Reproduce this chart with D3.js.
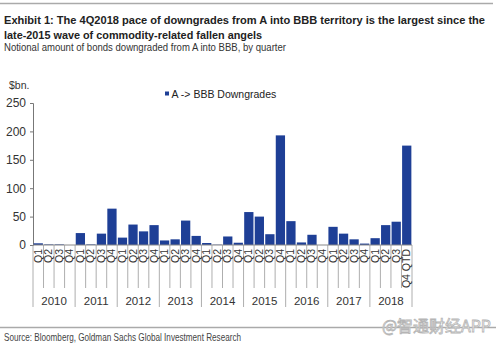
<!DOCTYPE html>
<html>
<head>
<meta charset="utf-8">
<script src="https://cdn.jsdelivr.net/npm/d3@7"></script>
<style>
  body { margin: 0; background: #fff; }
  svg text { font-family: "Liberation Sans", Arial, sans-serif; }
</style>
</head>
<body>
<div id="chart"></div>
<script>
// data
const years = ["2010", "2011", "2012", "2013", "2014", "2015", "2016", "2017", "2018"];
const quarters = ["Q1", "Q2", "Q3", "Q4"];
const downgrades = [
  3, 1, 1, 0,
  21, 1, 20, 64,
  13, 36, 24, 35,
  8, 10, 43, 16,
  3.5, 0.5, 15, 4,
  58, 50, 19, 193,
  42, 4.5, 18, 0,
  32, 20, 10, 2.5,
  12, 35, 41, 175
];
const yTicks = [0, 50, 100, 150, 200, 250];
const seriesName = "A -> BBB Downgrades";

// labels for each quarter, last one is quarter to date
const labels = [];
years.forEach((yr, yi) => quarters.forEach((q, qi) => {
  let lab = q;
  if (yi === years.length - 1 && qi === 3) lab = "Q4 QTD";
  labels.push({ key: yr + q, year: yr, label: lab });
}));
const data = labels.map((d, i) => ({ ...d, value: downgrades[i] }));

let width = 496, height = 346;
let margin = { top: 103, left: 33, right: 84, bottom: 101 };
let innerW = width - margin.left - margin.right;
let innerH = height - margin.top - margin.bottom;

let svg = d3.select("#chart").append("svg")
  .attr("width", width)
  .attr("height", height);

// header (narrow font squeezed with textLength)
svg.append("line")
  .attr("x1", 0).attr("x2", 493).attr("y1", 3.5).attr("y2", 3.5)
  .attr("stroke", "#aaa").attr("stroke-width", 1.5);
svg.append("text")
  .attr("x", 4).attr("y", 23.5).attr("font-size", 11.5).attr("font-weight", "bold").attr("fill", "#222")
  .attr("textLength", 481).attr("lengthAdjust", "spacingAndGlyphs")
  .text("Exhibit 1: The 4Q2018 pace of downgrades from A into BBB territory is the largest since the");
svg.append("text")
  .attr("x", 4).attr("y", 38.5).attr("font-size", 11.5).attr("font-weight", "bold").attr("fill", "#222")
  .attr("textLength", 258).attr("lengthAdjust", "spacingAndGlyphs")
  .text("late-2015 wave of commodity-related fallen angels");
svg.append("text")
  .attr("x", 4).attr("y", 51).attr("font-size", 10.5).attr("fill", "#333")
  .attr("textLength", 282).attr("lengthAdjust", "spacingAndGlyphs")
  .text("Notional amount of bonds downgraded from A into BBB, by quarter");

let g = svg.append("g")
  .attr("transform", "translate(" + margin.left + "," + margin.top + ")");

let x = d3.scaleBand()
  .domain(data.map(d => d.key))
  .range([0, innerW])
  .paddingInner(0.12)
  .paddingOuter(0.06);
let y = d3.scaleLinear().domain([0, 250]).range([innerH, 0]);

// y axis
let yAxis = d3.axisLeft(y).tickValues(yTicks).tickSize(3).tickPadding(4);
let ya = g.append("g").call(yAxis);
ya.select(".domain").attr("stroke", "#777");
ya.selectAll(".tick line").attr("stroke", "#777");
ya.selectAll("text").attr("font-size", 12).attr("fill", "#333")
  .style("font-family", "Liberation Sans, Arial, sans-serif");

svg.append("text")
  .attr("x", 9).attr("y", 89).attr("font-size", 10.5).attr("fill", "#333")
  .text("$bn.");

// bars
g.selectAll(".bar")
  .data(data)
  .enter().append("rect")
  .attr("class", "bar")
  .attr("x", d => x(d.key))
  .attr("width", x.bandwidth())
  .attr("y", d => y(d.value))
  .attr("height", d => innerH - y(d.value))
  .attr("fill", "#1e3f96");

// baseline
g.append("line")
  .attr("x1", 0).attr("x2", innerW).attr("y1", innerH).attr("y2", innerH)
  .attr("stroke", "#888");

// separators between quarters and years
let bounds = d3.range(data.length + 1);
g.selectAll(".sep")
  .data(bounds)
  .enter().append("line")
  .attr("class", "sep")
  .attr("x1", i => i * innerW / data.length)
  .attr("x2", i => i * innerW / data.length)
  .attr("y1", innerH)
  .attr("y2", i => innerH + (i % 4 === 0 ? 62 : 43))
  .attr("stroke", "#999").attr("stroke-width", 0.8);

// quarter labels
g.selectAll(".qlab")
  .data(data)
  .enter().append("text")
  .attr("class", "qlab")
  .attr("transform", d => "translate(" + (x(d.key) + x.bandwidth() / 2 + 3.5) + "," + (innerH + 4) + ") rotate(-90)")
  .attr("text-anchor", "end")
  .attr("font-size", 10.5).attr("fill", "#333")
  .text(d => d.label);

// year labels
g.selectAll(".ylab")
  .data(years)
  .enter().append("text")
  .attr("class", "ylab")
  .attr("x", (d, i) => (i * 4 + 2) * innerW / data.length)
  .attr("y", innerH + 60)
  .attr("text-anchor", "middle")
  .attr("font-size", 11.5).attr("fill", "#333")
  .text(d => d);

// legend
svg.append("rect")
  .attr("x", 165).attr("y", 91.5).attr("width", 4).attr("height", 4)
  .attr("fill", "#1e3f96");
svg.append("text")
  .attr("x", 171.5).attr("y", 98).attr("font-size", 10.5).attr("fill", "#222")
  .text(seriesName);

// footer
svg.append("line")
  .attr("x1", 0).attr("x2", 496).attr("y1", 327.5).attr("y2", 327.5)
  .attr("stroke", "#aaa").attr("stroke-width", 1.5);
svg.append("text")
  .attr("x", 4).attr("y", 341).attr("font-size", 10.5).attr("fill", "#444")
  .attr("textLength", 237).attr("lengthAdjust", "spacingAndGlyphs")
  .text("Source: Bloomberg, Goldman Sachs Global Investment Research");

// watermark
svg.append("text")
  .attr("x", 491).attr("y", 332).attr("text-anchor", "end")
  .attr("font-size", 16)
  .style("font-family", "Noto Sans CJK SC, sans-serif")
  .attr("fill", "#fff").attr("stroke", "#b5b5b5").attr("stroke-width", 0.8)
  .text("@智通财经APP");
</script>
</body>
</html>
